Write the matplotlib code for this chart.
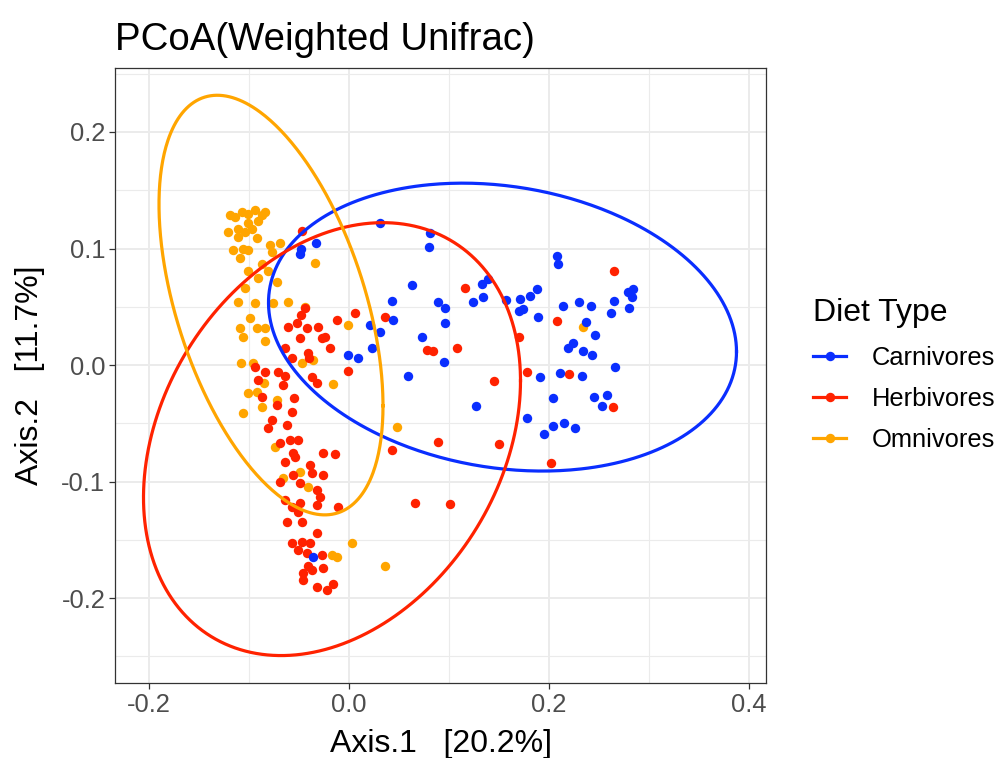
import numpy as np
import matplotlib.pyplot as plt
from matplotlib.lines import Line2D

plt.rcParams['font.family'] = ['Liberation Sans', 'DejaVu Sans']

grupos = ["Carnivores", "Herbivores", "Omnivores"]
colores = ["#0a2eff", "#ff2200", "#ffa500"]

# Carnivores (Axis.1, Axis.2)
carn_x = [-0.033, -0.048, -0.049, 0.031, 0.021, 0.031, -0.001, 0.009, 0.023, 0.081,
          0.080, 0.063, 0.043, 0.089, 0.096, 0.096, 0.044, 0.073, 0.133, 0.139,
          0.134, 0.124, 0.157, 0.171, 0.174, 0.170, 0.181, 0.188, 0.189, 0.095,
          0.059, 0.127, 0.208, 0.209, 0.214, 0.230, 0.242, 0.237, 0.246, 0.265,
          0.262, 0.280, 0.283, 0.284, 0.279, 0.219, 0.224, 0.234, 0.243, 0.191,
          0.211, 0.233, 0.266, 0.204, 0.245, 0.258, 0.253, 0.178, 0.195, 0.204,
          0.215, 0.226, -0.036]
carn_y = [0.105, 0.100, 0.095, 0.122, 0.034, 0.028, 0.009, 0.006, 0.015, 0.113,
          0.101, 0.069, 0.055, 0.054, 0.049, 0.036, 0.039, 0.024, 0.070, 0.074,
          0.058, 0.054, 0.056, 0.057, 0.048, 0.046, 0.059, 0.065, 0.041, 0.003,
          -0.009, -0.035, 0.094, 0.087, 0.051, 0.054, 0.051, 0.037, 0.026, 0.055,
          0.045, 0.049, 0.058, 0.065, 0.063, 0.015, 0.019, 0.012, 0.009, -0.010,
          -0.007, -0.009, -0.002, -0.028, -0.027, -0.026, -0.035, -0.045, -0.059, -0.052,
          -0.050, -0.054, -0.165]

# Herbivores
herb_x = [-0.047, -0.044, -0.048, -0.052, -0.061, -0.042, -0.031, -0.012, 0.006, -0.024,
          -0.049, -0.027, -0.019, -0.064, -0.057, -0.041, -0.040, -0.094, -0.084, -0.071,
          -0.064, -0.091, -0.037, -0.032, -0.066, -0.055, -0.087, -0.072, -0.057, -0.077,
          -0.081, -0.062, -0.069, -0.059, -0.051, -0.056, -0.054, -0.064, -0.039, -0.026,
          -0.014, -0.001, -0.037, -0.026, -0.056, -0.069, -0.049, -0.032, -0.029, -0.064,
          -0.057, -0.049, -0.032, -0.051, -0.011, -0.062, -0.047, -0.032, -0.057, -0.047,
          -0.039, -0.051, -0.042, -0.027, -0.041, -0.046, -0.026, -0.037, -0.046, -0.032,
          -0.022, -0.016, 0.043, 0.066, 0.078, 0.084, 0.108, 0.145, 0.089, 0.150,
          0.116, 0.208, 0.170, 0.178, 0.220, 0.264, 0.265, 0.202, 0.036, 0.101]
herb_y = [0.115, 0.049, 0.043, 0.036, 0.033, 0.032, 0.033, 0.039, 0.045, 0.024,
          0.023, 0.023, 0.015, 0.015, 0.006, 0.010, 0.006, -0.002, -0.006, -0.006,
          -0.009, -0.013, -0.010, -0.015, -0.017, -0.028, -0.027, -0.034, -0.040, -0.047,
          -0.054, -0.051, -0.067, -0.064, -0.064, -0.075, -0.079, -0.083, -0.086, -0.075,
          -0.076, -0.005, -0.093, -0.094, -0.094, -0.100, -0.101, -0.107, -0.113, -0.116,
          -0.122, -0.118, -0.120, -0.126, -0.122, -0.135, -0.135, -0.144, -0.153, -0.152,
          -0.153, -0.159, -0.161, -0.163, -0.172, -0.178, -0.174, -0.176, -0.184, -0.190,
          -0.193, -0.188, -0.073, -0.118, 0.013, 0.012, 0.015, -0.014, -0.066, -0.068,
          0.066, 0.038, 0.024, -0.006, -0.008, -0.036, 0.081, -0.084, 0.041, -0.119]

# Omnivores
omni_x = [-0.119, -0.114, -0.107, -0.101, -0.094, -0.084, -0.091, -0.121, -0.111, -0.101,
          -0.111, -0.116, -0.106, -0.101, -0.109, -0.092, -0.104, -0.097, -0.087, -0.079,
          -0.069, -0.077, -0.087, -0.081, -0.091, -0.072, -0.101, -0.104, -0.111, -0.094,
          -0.076, -0.061, -0.034, -0.044, -0.099, -0.109, -0.092, -0.084, -0.001, -0.106,
          -0.084, -0.108, -0.096, -0.047, -0.085, -0.101, -0.092, -0.072, -0.087, -0.106,
          -0.036, -0.016, -0.074, -0.049, -0.066, -0.041, 0.048, 0.003, -0.017, -0.012,
          0.036, 0.234]
omni_y = [0.129, 0.127, 0.131, 0.130, 0.133, 0.131, 0.124, 0.114, 0.117, 0.122,
          0.110, 0.099, 0.100, 0.099, 0.092, 0.109, 0.114, 0.117, 0.129, 0.103,
          0.105, 0.097, 0.087, 0.081, 0.075, 0.071, 0.081, 0.066, 0.054, 0.053,
          0.053, 0.054, 0.088, 0.050, 0.040, 0.032, 0.032, 0.032, 0.034, 0.024,
          0.021, 0.002, 0.002, 0.002, -0.015, -0.024, -0.023, -0.030, -0.036, -0.041,
          0.004, -0.016, -0.070, -0.092, -0.097, -0.105, -0.053, -0.153, -0.163, -0.165,
          -0.172, 0.033]

# elipses (centro, semiejes en x e y, correlacion)
elip_cx = [0.1535, -0.017, -0.078]
elip_cy = [0.0326, -0.0635, 0.0515]
elip_hx = [0.234, 0.1885, 0.112]
elip_hy = [0.1235, 0.1857, 0.180]
elip_rho = [-0.17, 0.27, -0.48]

datos = {"Carnivores": (carn_x, carn_y),
         "Herbivores": (herb_x, herb_y),
         "Omnivores": (omni_x, omni_y)}

fig = plt.figure(figsize=(10, 7.58), dpi=100)
ax = fig.add_axes([0.115, 0.099, 0.651, 0.811])

for g in ["Omnivores", "Herbivores", "Carnivores"]:
    i = grupos.index(g)
    x, y = datos[g]
    ax.scatter(x, y, s=46, color=colores[i], linewidths=0, zorder=3)

t = np.linspace(0, 2 * np.pi, 400)
for i, g in enumerate(grupos):
    ex = elip_cx[i] + elip_hx[i] * np.cos(t)
    ey = elip_cy[i] + elip_hy[i] * (elip_rho[i] * np.cos(t)
                                    - np.sqrt(1 - elip_rho[i] ** 2) * np.sin(t))
    ax.plot(ex, ey, color=colores[i], lw=2.3, zorder=4)

ax.set_xlim(-0.234, 0.417)
ax.set_ylim(-0.2727, 0.2547)
ax.set_xticks([-0.2, 0.0, 0.2, 0.4])
ax.set_xticklabels(["-0.2", "0.0", "0.2", "0.4"])
ax.set_xticks([-0.1, 0.1, 0.3], minor=True)
ax.set_yticks([-0.2, -0.1, 0.0, 0.1, 0.2])
ax.set_yticklabels(["-0.2", "-0.1", "0.0", "0.1", "0.2"])
ax.set_yticks([-0.25, -0.15, -0.05, 0.05, 0.15, 0.25], minor=True)
ax.grid(which="major", color="#EBEBEB", lw=1.4)
ax.grid(which="minor", color="#EBEBEB", lw=0.8)
ax.set_axisbelow(True)
ax.tick_params(which="major", length=4, width=0.9, color="#333333",
               labelsize=18.4, labelcolor="#4D4D4D", pad=3)
ax.tick_params(which="minor", length=0)
for s in ax.spines.values():
    s.set_color("#333333")
    s.set_linewidth(0.9)

fig.text(0.115, 1 - 50 / 758, "PCoA(Weighted Unifrac)", fontsize=27.6, va="baseline")
fig.text(0.4405, 1 - 744 / 758, "Axis.1   [20.2%]", fontsize=23, ha="center", va="center")
fig.text(0.030, 1 - 375 / 758, "Axis.2   [11.7%]", fontsize=23, ha="center", va="center",
         rotation=90)

handles = [Line2D([], [], color=c, lw=2.3, marker="o", markersize=6.8,
                  markeredgewidth=0) for c in colores]
leg = ax.legend(handles, grupos, title="Diet Type", loc="upper left",
                bbox_to_anchor=(0.806, 1 - 291 / 758), bbox_transform=fig.transFigure,
                frameon=False, fontsize=18.4, title_fontsize=23, alignment="left",
                handlelength=1.3, handletextpad=0.98, labelspacing=0.68,
                borderpad=0.28, borderaxespad=0)

fig.savefig("out.png", dpi=100)
